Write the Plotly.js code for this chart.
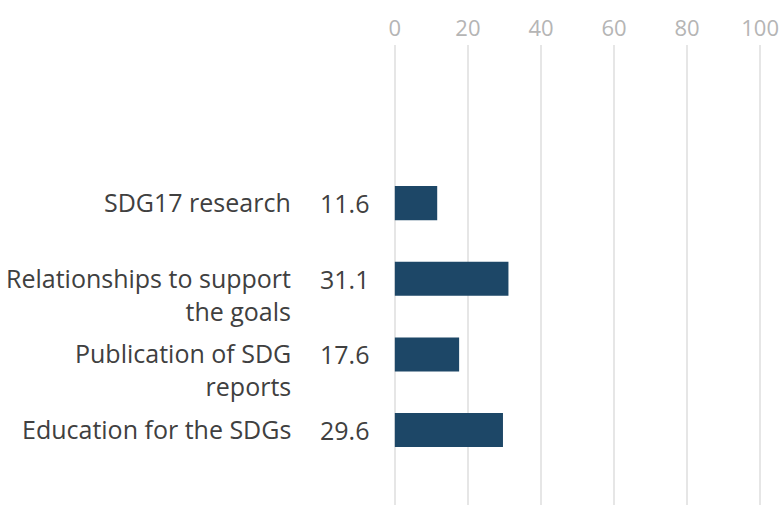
<!DOCTYPE html>
<html>
<head>
<meta charset="utf-8">
<script src="https://cdn.plot.ly/plotly-3.0.1.min.js"></script>
<style>html,body{margin:0;padding:0;background:#fff;}#chart{width:779px;height:508px;}</style>
</head>
<body>
<div id="chart"></div>
<script>
const categories = ["SDG17 research", "Relationships to support<br>the goals", "Publication of SDG<br>reports", "Education for the SDGs"];
const values = [11.6, 31.1, 17.6, 29.6];
const xTicks = [0, 20, 40, 60, 80, 100];

const FONT = "Open Sans, sans-serif";
const LABEL_COLOR = "#404040";
const SIZE = 25;
const annotations = [];
categories.forEach((c, i) => {
  annotations.push({
    xref: "paper", yref: "y", x: -0.271, y: i, text: c,
    xanchor: "right", yanchor: "top", align: "right", showarrow: false,
    yshift: SIZE * 1.3 / 2 + 4,
    font: {family: FONT, size: SIZE, color: LABEL_COLOR}
  });
  annotations.push({
    xref: "paper", yref: "y", x: -0.203, y: i, text: values[i].toFixed(1),
    xanchor: "left", yanchor: "middle", align: "left", showarrow: false,
    font: {family: FONT, size: SIZE, color: LABEL_COLOR}
  });
});

Plotly.newPlot("chart", [{
  type: "bar", orientation: "h",
  x: values, y: [0, 1, 2, 3],
  width: 0.45,
  marker: {color: "#1d4767"},
  hoverinfo: "none"
}], {
  width: 779, height: 508,
  margin: {l: 393, r: 17, t: 45, b: 3},
  paper_bgcolor: "#fff", plot_bgcolor: "#fff",
  showlegend: false,
  xaxis: {
    side: "top", range: [-0.5, 100.5], tickvals: xTicks, ticktext: xTicks.map(String),
    showgrid: true, gridcolor: "#e6e6e6", gridwidth: 1.5, zeroline: false,
    showline: false, ticks: "", ticklabelstandoff: 4, ticklabeloverflow: "allow",
    tickfont: {family: FONT, size: 22, color: "#b5b5b5"}
  },
  yaxis: {
    range: [3.99, -2.09], showticklabels: false, showgrid: false,
    zeroline: false, showline: false, ticks: ""
  },
  annotations: annotations
}, {displayModeBar: false, staticPlot: true});
</script>
</body>
</html>
